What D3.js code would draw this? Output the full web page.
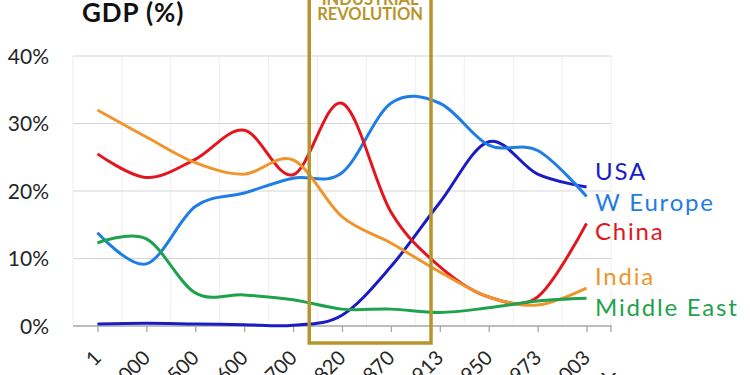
<!DOCTYPE html>
<html>
<head>
<meta charset="utf-8">
<script src="https://cdn.jsdelivr.net/npm/d3@7"></script>
<style>
body { margin: 0; background: #fff; }
svg { display: block; }
text { font-family: Lato, "Open Sans", sans-serif; }
</style>
</head>
<body>
<svg id="chart" width="750" height="375"></svg>
<script>
// share of world GDP, in %
var years = ['1', '1000', '1500', '1600', '1700', '1820', '1870', '1913', '1950', '1973', '2003'];
var usa = [0.3, 0.4, 0.3, 0.2, 0.1, 1.6, 8.8, 18.3, 27.3, 22.5, 20.6];
var wEurope = [13.8, 9.2, 17.7, 19.7, 21.9, 22.7, 33.0, 33.0, 26.8, 26.0, 19.2];
var china = [25.5, 22.0, 24.7, 29.0, 22.4, 33.0, 16.9, 8.8, 4.3, 4.3, 15.2];
var india = [32.0, 28.0, 24.2, 22.5, 24.6, 16.2, 12.3, 8.0, 4.3, 3.1, 5.6];
var middleEast = [12.3, 12.9, 4.9, 4.6, 3.9, 2.5, 2.5, 2.0, 2.7, 3.7, 4.1];
var yTicks = [0, 10, 20, 30, 40];

var series = [
	{ name: 'USA', values: usa, colour: '#1c1cc4', labelY: 180 },
	{ name: 'W Europe', values: wEurope, colour: '#1f7de6', labelY: 211 },
	{ name: 'China', values: china, colour: '#e3161f', labelY: 240 },
	{ name: 'India', values: india, colour: '#f0952c', labelY: 285 },
	{ name: 'Middle East', values: middleEast, colour: '#1ea24e', labelY: 316 }
];

var svg = d3.select('#chart');
var plotLeft = 73, plotRight = 611, plotTop = 56, plotBottom = 326;

var x = d3.scalePoint().domain(years).range([plotLeft, plotRight]).padding(0.5);
var step = x.step();
var y = d3.scaleLinear().domain([0, 40]).range([plotBottom, plotTop]);

// vertical gridlines between categories
var edges = d3.range(years.length + 1).map(i => plotLeft + i * step);
svg.append('g').selectAll('line').data(edges).enter().append('line')
	.attr('x1', d => d).attr('x2', d => d)
	.attr('y1', plotTop).attr('y2', plotBottom)
	.attr('stroke', '#efefef').attr('stroke-width', 1);

// horizontal gridlines
svg.append('g').selectAll('line').data(yTicks.slice(1)).enter().append('line')
	.attr('x1', plotLeft).attr('x2', plotRight)
	.attr('y1', d => y(d)).attr('y2', d => y(d))
	.attr('stroke', '#d6d6d6').attr('stroke-width', 1.2);

// y labels
svg.append('g').selectAll('text').data(yTicks).enter().append('text')
	.attr('x', 49).attr('y', d => y(d))
	.attr('dy', '0.36em')
	.attr('text-anchor', 'end')
	.attr('font-size', 21)
	.attr('fill', '#262626')
	.text(d => d + '%');

// x axis
var xAxis = d3.axisBottom(x).tickSize(6).tickFormat('');
var gx = svg.append('g').attr('transform', 'translate(0,' + plotBottom + ')').call(xAxis);
gx.select('.domain').attr('stroke', '#a6a6a6').attr('stroke-width', 1.3)
	.attr('d', 'M' + plotLeft + ',0H' + plotRight + 'V6');
gx.selectAll('.tick line').attr('stroke', '#a6a6a6').attr('stroke-width', 1.3);

svg.append('g').selectAll('text').data(years).enter().append('text')
	.attr('transform', d => 'translate(' + (x(d) + 5) + ',359) rotate(-45)')
	.attr('text-anchor', 'end')
	.attr('font-size', 20)
	.attr('fill', '#262626')
	.text(d => d);

svg.append('text')
	.attr('x', 601).attr('y', 390)
	.attr('font-size', 24)
	.attr('fill', '#262626')
	.text('Year');

// lines
var line = d3.line()
	.x((d, i) => x(years[i]))
	.y(d => y(d))
	.curve(d3.curveCatmullRom.alpha(0));

svg.append('g').selectAll('path').data(series).enter().append('path')
	.attr('d', d => line(d.values))
	.attr('fill', 'none')
	.attr('stroke', d => d.colour)
	.attr('stroke-width', 3)
	.attr('stroke-linejoin', 'round');

// labels at the right
svg.append('g').selectAll('text').data(series).enter().append('text')
	.attr('x', 595).attr('y', d => d.labelY)
	.attr('font-size', 24)
	.attr('letter-spacing', 1.8)
	.attr('fill', d => d.colour)
	.text(d => d.name);

// industrial revolution box
var gold = '#b8952c';
var boxLeft = x('1820') - 0.67 * step;
var boxRight = x('1913') - 0.18 * step;
svg.append('rect')
	.attr('x', boxLeft).attr('y', -10)
	.attr('width', boxRight - boxLeft).attr('height', 353)
	.attr('fill', 'none')
	.attr('stroke', gold).attr('stroke-width', 3.5);

svg.append('g').selectAll('text').data(['INDUSTRIAL', 'REVOLUTION']).enter().append('text')
	.attr('x', (boxLeft + boxRight) / 2)
	.attr('y', (d, i) => 5 + i * 15)
	.attr('text-anchor', 'middle')
	.attr('font-family', '"Liberation Sans", Arial, sans-serif')
	.attr('font-weight', 'bold')
	.attr('font-size', 16.5)
	.attr('fill', gold)
	.text(d => d);

// title
svg.append('text')
	.attr('x', 82).attr('y', 22)
	.attr('font-size', 26)
	.attr('letter-spacing', 0.9)
	.attr('font-weight', 'bold')
	.attr('fill', '#111')
	.text('GDP (%)');
</script>
</body>
</html>
